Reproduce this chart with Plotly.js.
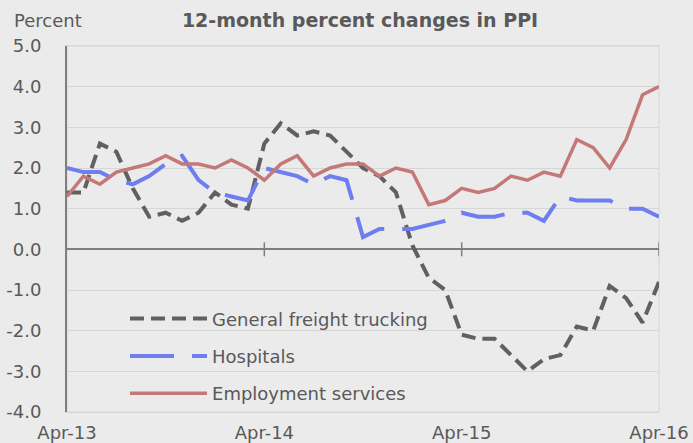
<!DOCTYPE html>
<html>
<head>
<meta charset="utf-8">
<script src="https://cdn.plot.ly/plotly-3.0.1.min.js"></script>
<style>
  html, body { margin: 0; padding: 0; background: #ebebeb; }
  #chart { width: 693px; height: 443px; }
</style>
</head>
<body>
<div id="chart"></div>
<script>
const months = [
  'Apr-13','May-13','Jun-13','Jul-13','Aug-13','Sep-13','Oct-13','Nov-13','Dec-13',
  'Jan-14','Feb-14','Mar-14','Apr-14','May-14','Jun-14','Jul-14','Aug-14','Sep-14',
  'Oct-14','Nov-14','Dec-14','Jan-15','Feb-15','Mar-15','Apr-15','May-15','Jun-15',
  'Jul-15','Aug-15','Sep-15','Oct-15','Nov-15','Dec-15','Jan-16','Feb-16','Mar-16','Apr-16'
];
const trucking = [1.4,1.4,2.6,2.4,1.5,0.8,0.9,0.7,0.9,1.4,1.1,1.0,2.6,3.1,2.8,2.9,2.8,2.4,
  2.0,1.8,1.4,0.1,-0.7,-1.0,-2.1,-2.2,-2.2,-2.6,-3.0,-2.7,-2.6,-1.9,-2.0,-0.9,-1.2,-1.8,-0.8];
const hospitals = [2.0,1.9,1.9,1.7,1.6,1.8,2.1,2.3,1.7,1.4,1.3,1.2,2.0,1.9,1.8,1.6,1.8,1.7,
  0.3,0.5,0.5,0.5,0.6,0.7,0.9,0.8,0.8,0.9,0.9,0.7,1.3,1.2,1.2,1.2,1.0,1.0,0.8];
const employment = [1.3,1.8,1.6,1.9,2.0,2.1,2.3,2.1,2.1,2.0,2.2,2.0,1.7,2.1,2.3,1.8,2.0,2.1,
  2.1,1.8,2.0,1.9,1.1,1.2,1.5,1.4,1.5,1.8,1.7,1.9,1.8,2.7,2.5,2.0,2.7,3.8,4.0];
const seriesNames = ['General freight trucking','Hospitals','Employment services'];
const xTickVals = ['Apr-13','Apr-14','Apr-15','Apr-16'];
const zeroTickVals = ['Apr-14','Apr-15','Apr-16'];
const yTickVals = [-4,-3,-2,-1,0,1,2,3,4,5];
const yTickText = ['-4.0','-3.0','-2.0','-1.0','0.0','1.0','2.0','3.0','4.0','5.0'];

const txt = '#595959';
const font = {family: 'DejaVu Sans', size: 18, color: txt};

const traces = [
  {x: months, y: trucking, name: seriesNames[0], type: 'scatter', mode: 'lines',
   legendgroup: 'a', line: {color: '#606060', width: 4, dash: '14px,7px'}},
  {x: months, y: hospitals, name: seriesNames[1], type: 'scatter', mode: 'lines',
   legendgroup: 'b', line: {color: '#6e7df0', width: 4, dash: '44px,18px'}},
  {x: months, y: employment, name: seriesNames[2], type: 'scatter', mode: 'lines',
   legendgroup: 'c', line: {color: '#c57878', width: 3.5}}
];

const shapes = [{type: 'rect', xref: 'paper', yref: 'paper', x0: 0, x1: 1, y0: 0, y1: 1,
                 line: {color: '#d6d6d6', width: 1}, layer: 'below'}];
zeroTickVals.forEach(v => shapes.push({
  type: 'line', xref: 'x', yref: 'y', x0: v, x1: v, ysizemode: 'pixel', yanchor: 0,
  y0: -7, y1: 7, line: {color: '#7f7f7f', width: 1.5}, layer: 'above'
}));

const layout = {
  width: 693, height: 443,
  paper_bgcolor: '#ebebeb', plot_bgcolor: '#ebebeb',
  margin: {l: 67, r: 34, t: 46, b: 31, pad: 0},
  font: font,
  title: {text: '<b>12-month percent changes in PPI</b>', font: {family: 'DejaVu Sans', size: 19, color: txt},
          x: 0.495, xref: 'paper', xanchor: 'center', y: 0.955, yref: 'container', yanchor: 'middle'},
  showlegend: true,
  legend: {x: 0.098, xanchor: 'left', y: 0.305, yanchor: 'top', bgcolor: 'rgba(0,0,0,0)',
           font: font, itemwidth: 77, traceorder: 'grouped', tracegroupgap: 11},
  xaxis: {type: 'category', range: [0, 36], tickvals: xTickVals, ticktext: xTickVals,
          showgrid: false, zeroline: false, showline: true, linecolor: '#d6d6d6', linewidth: 1,
          mirror: true, ticks: 'outside', ticklen: 4, tickcolor: 'rgba(0,0,0,0)',
          tickfont: font, fixedrange: true},
  yaxis: {range: [-4, 5], tickvals: yTickVals, ticktext: yTickText, showgrid: true,
          gridcolor: '#d6d6d6', gridwidth: 1, zeroline: true, zerolinecolor: '#7f7f7f',
          zerolinewidth: 2, showline: true, linecolor: '#7f7f7f', linewidth: 2,
          ticks: 'outside', ticklen: 20, tickcolor: 'rgba(0,0,0,0)', tickfont: font, fixedrange: true},
  shapes: shapes,
  annotations: [{text: 'Percent', xref: 'paper', yref: 'paper', x: -0.093, y: 1.071,
                 xanchor: 'left', yanchor: 'middle', showarrow: false, font: font}]
};

Plotly.newPlot('chart', traces, layout, {displayModeBar: false, staticPlot: true});
</script>
</body>
</html>
